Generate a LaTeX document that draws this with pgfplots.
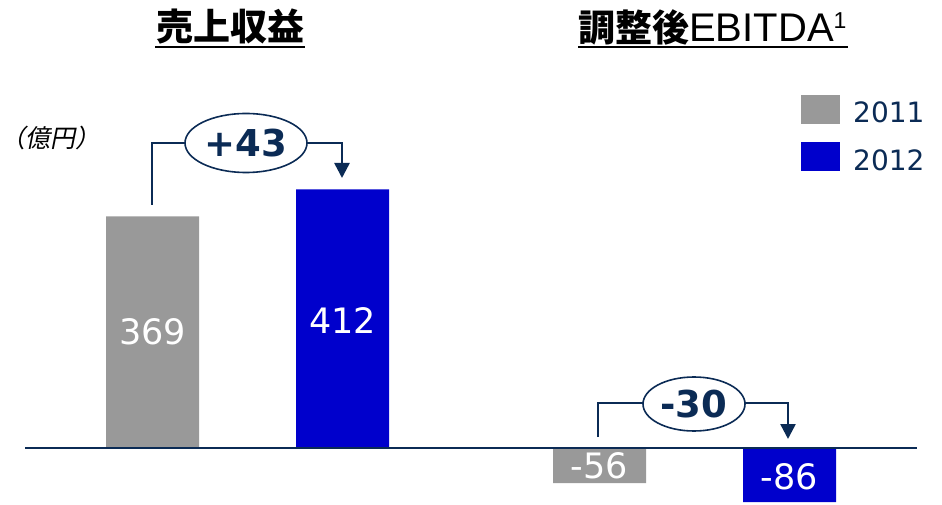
\documentclass[border=0pt]{standalone}
\usepackage{pgfplots}
\pgfplotsset{compat=1.18}
\usepackage{fontspec}
\setmainfont{DejaVu Sans}
\newfontfamily\cjk{Noto Sans CJK JP}
\newfontfamily\cjkit{Noto Sans CJK JP}[FakeSlant=0.2]
\newfontfamily\lib{Liberation Sans}
\usetikzlibrary{arrows.meta}
\definecolor{barGray}{HTML}{999999}
\definecolor{barBlue}{HTML}{0000CC}
\definecolor{navy}{HTML}{0B2B55}
\begin{document}
\begin{tikzpicture}
\begin{axis}[
  scale only axis, width=942pt, height=504pt,
  xmin=0, xmax=942, ymin=-89.17, ymax=713.38,
  hide axis, clip=false,
  legend style={at={(axis cs:801,563)}, anchor=north west, draw=none, fill=none,
    inner sep=0pt, font=\fontsize{28}{28}\selectfont, text=navy,
    row sep=16pt},
  legend cell align=left,
]
\addplot[ybar, bar shift=0pt, bar width=93, fill=barGray, draw=none,
  legend image code/.code={\fill[barGray] (0pt,-10.5pt) rectangle (39pt,18.5pt); \path (50pt,0pt);}]
  coordinates {(152.5,369) (599.5,-56)};
\addlegendentry{2011}
\addplot[ybar, bar shift=0pt, bar width=93, fill=barBlue, draw=none,
  legend image code/.code={\fill[barBlue] (0pt,-10.5pt) rectangle (39pt,18.5pt); \path (50pt,0pt);}]
  coordinates {(342.5,412) (789.5,-86)};
\addlegendentry{2012}
\addplot[draw=none, forget plot, nodes near coords, point meta=explicit symbolic,
  nodes near coords style={anchor=center, text=white, font=\fontsize{35}{35}\selectfont}]
  coordinates {(152.5,184.7)[369] (342.5,203.8)[412] (599.5,-28.7)[-56] (789.5,-46)[-86]};
\draw[navy, line width=2pt] (axis cs:25,0) -- (axis cs:917,0);
\end{axis}
% annotations (1pt = 1px of the reference; y measured from bottom)
\node[font=\cjk\bfseries\fontsize{37}{37}\selectfont] at (230pt,477pt) {売上収益};
\draw[line width=2.5pt] (155pt,457pt) -- (305pt,457pt);
\node[anchor=west, inner sep=0pt] at (578pt,477pt) {\cjk\bfseries\fontsize{37}{37}\selectfont 調整後\lib\mdseries\fontsize{40}{40}\selectfont EBITDA\raisebox{13pt}{\fontsize{23}{23}\selectfont 1}};
\draw[line width=2.5pt] (578pt,457pt) -- (848pt,457pt);
\node[anchor=west, inner sep=0pt, font=\cjkit\fontsize{25}{25}\selectfont] at (0pt,366pt) {（億円）};
% revenue change
\draw[navy, line width=2.5pt] (152pt,299pt) -- (152pt,361pt) -- (185pt,361pt);
\draw[navy, line width=2.5pt, -{Triangle[length=15pt,width=15pt]}] (307pt,361pt) -- (342pt,361pt) -- (342pt,326pt);
\draw[navy, line width=1.6pt, fill=white] (246pt,361pt) ellipse [x radius=61pt, y radius=29.5pt];
\node[navy, font=\bfseries\fontsize{37}{37}\selectfont] at (246pt,361pt) {+43};
% ebitda change
\draw[navy, line width=2.5pt] (598pt,67pt) -- (598pt,101pt) -- (643pt,101pt);
\draw[navy, line width=2.5pt, -{Triangle[length=15pt,width=15pt]}] (745pt,101pt) -- (788pt,101pt) -- (788pt,65pt);
\draw[navy, line width=1.6pt, fill=white] (694pt,100pt) ellipse [x radius=51pt, y radius=27pt];
\node[navy, font=\bfseries\fontsize{37}{37}\selectfont] at (694pt,100pt) {-30};
\pgfresetboundingbox
\path[use as bounding box] (0,0) rectangle (942pt,504pt);
\end{tikzpicture}
\end{document}
